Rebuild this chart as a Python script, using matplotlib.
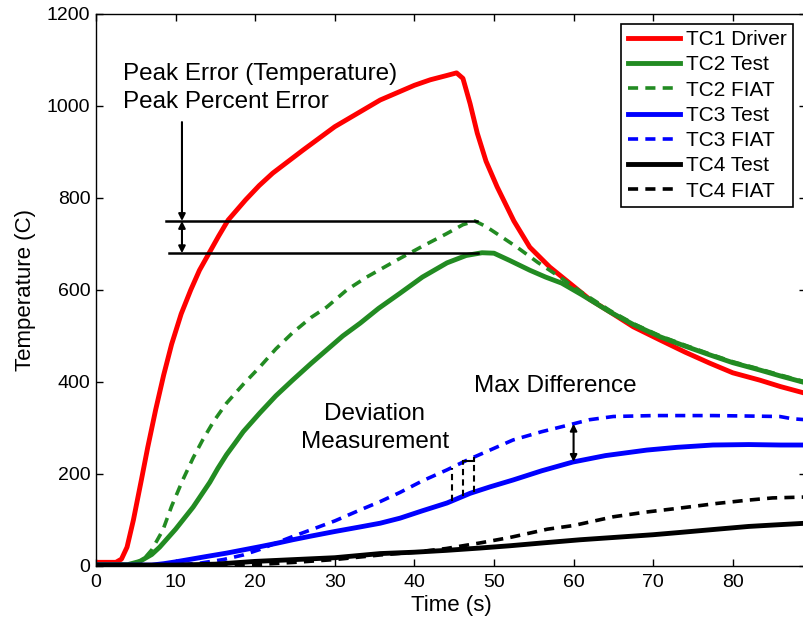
import numpy as np
import matplotlib
matplotlib.use("Agg")
import matplotlib.pyplot as plt

plt.rcParams["font.family"] = ["Liberation Sans", "DejaVu Sans"]

# --- data (time in s, temperature in C) ----------------------------------------------------
tc1_x = [0, 2.5, 3.2, 3.9, 4.7, 5.7, 6.5, 7.5, 8.5, 9.5, 10.7, 11.9, 13.0, 14.2, 15.4, 16.6,
         18.8, 20.5, 22.2, 26.0, 30.0, 35.7, 40.0, 42.0, 44.0, 45.3, 46.1, 47.0, 47.9, 49.0,
         50.4, 52.5, 54.5, 57.0, 59.5, 62.0, 64.6, 67.5, 70.9, 74.0, 77.1, 80.0, 83.4, 86.0, 89.2]
tc1_y = [8, 8, 15, 41, 100, 187, 258, 340, 415, 482, 548, 600, 643, 680, 717, 752,
         796, 827, 854, 904, 955, 1013, 1045, 1057, 1066, 1072, 1060, 1005, 941, 880,
         824, 750, 693, 650, 615, 580, 552, 520, 491, 465, 441, 420, 404, 390, 375]

tc2_test_x = [0, 4.0, 5.5, 7.0, 8.0, 10.0, 12.2, 14.3, 15.3, 16.4, 17.5, 18.5, 20.6, 22.6,
              24.7, 27.0, 29.0, 31.0, 33.2, 35.5, 38.2, 41.0, 44.1, 46.5, 48.5, 50.0, 52.0,
              54.5, 56.5, 58.5, 61.0, 64.6, 67.5, 70.9, 74.0, 77.1, 80.0, 83.4, 86.0, 89.2]
tc2_test_y = [3, 3, 10, 25, 41, 80, 128, 182, 212, 242, 268, 292, 333, 370,
              404, 440, 470, 500, 528, 560, 593, 628, 659, 675, 681, 680, 664,
              643, 628, 615, 590, 552, 525, 498, 478, 459, 442, 426, 413, 398]

tc2_fiat_x = [0, 4.5, 6.0, 7.0, 8.4, 9.5, 10.9, 12.2, 13.4, 14.8, 16.4, 18.5, 20.6, 22.6,
              24.7, 27.0, 29.0, 31.5, 34.0, 37.8, 41.0, 44.0, 46.1, 47.6, 49.0, 51.0, 52.9,
              55.5, 58.3, 61.0, 64.6, 67.5, 70.9, 74.0, 77.1, 80.0, 83.4, 86.0, 89.2]
tc2_fiat_y = [3, 3, 15, 35, 78, 130, 187, 235, 274, 315, 354, 395, 433, 472,
              507, 540, 563, 600, 628, 665, 695, 722, 742, 750, 738, 715, 693,
              660, 628, 595, 555, 527, 500, 480, 461, 444, 428, 415, 400]

tc3_test_x = [0, 7.0, 8.5, 10.0, 12.0, 14.0, 16.4, 18.5, 20.6, 22.6, 24.7, 27.0, 30.0, 33.2,
              35.7, 38.2, 41.0, 44.1, 47.0, 49.5, 52.4, 56.0, 59.9, 64.0, 69.2, 73.0, 77.5,
              82.0, 86.0, 89.2]
tc3_test_y = [2, 2, 5, 9, 15, 21, 28, 35, 42, 49, 57, 65, 75, 85,
              93, 104, 120, 137, 158, 172, 187, 207, 226, 240, 252, 258, 263,
              264, 263, 263]

tc3_fiat_x = [0, 10, 13, 16, 18.5, 20.6, 22.6, 24.7, 26.9, 30.0, 33.2, 35.7, 38.2, 41.0,
              44.1, 46.6, 49.5, 52.4, 56.0, 59.5, 62.0, 65.0, 70.0, 77.5, 82.0, 85.9, 87.5, 89.2]
tc3_fiat_y = [2, 2, 6, 14, 24, 36, 50, 64, 78, 98, 122, 140, 160, 185,
              209, 230, 252, 274, 292, 307, 318, 325, 327, 327, 326, 325, 320, 318]

tc4_test_x = [0, 10, 15, 20, 25, 30, 35.7, 40, 44, 48.2, 52, 56, 60.8, 65, 70, 73.4, 78,
              82, 85, 89.2]
tc4_test_y = [2, 2, 4, 10, 14, 18, 27, 30, 34, 39, 44, 50, 57, 62, 68, 73, 80,
              86, 89, 93]

tc4_fiat_x = [0, 15, 20, 25, 30, 35.7, 40, 44, 48.2, 52, 56.7, 60, 65, 69, 73.4, 78, 81.8,
              85, 89.2]
tc4_fiat_y = [0, 0, 3, 8, 14, 24, 30, 38, 50, 62, 80, 88, 107, 117, 126, 136, 143,
              148, 150]

# annotation anchors (data coords)
peak_fiat = 750
peak_test = 680
dev_x = [44.7, 46.1, 47.5]
maxdiff_x = 60.0

RED = "#ff0000"
GREEN = "#228b22"
BLUE = "#0000ff"
DASH = (0, (2.8, 2.0))

fig = plt.figure(figsize=(8.04, 6.25), dpi=100)
ax = fig.add_axes([96 / 804, 1 - 566 / 625, 710 / 804, 552 / 625])

lw_s, lw_d = 3.5, 2.6
ax.plot(tc1_x, tc1_y, color=RED, lw=lw_s, label="TC1 Driver")
ax.plot(tc2_test_x, tc2_test_y, color=GREEN, lw=lw_s, label="TC2 Test")
ax.plot(tc2_fiat_x, tc2_fiat_y, color=GREEN, lw=lw_d, ls=DASH, label="TC2 FIAT")
ax.plot(tc3_test_x, tc3_test_y, color=BLUE, lw=lw_s, label="TC3 Test")
ax.plot(tc3_fiat_x, tc3_fiat_y, color=BLUE, lw=lw_d, ls=DASH, label="TC3 FIAT")
ax.plot(tc4_test_x, tc4_test_y, color="k", lw=lw_s, label="TC4 Test")
ax.plot(tc4_fiat_x, tc4_fiat_y, color="k", lw=lw_d, ls=DASH, label="TC4 FIAT")

ax.set_xlim(0, 89.2)
ax.set_ylim(0, 1200)
ax.set_xticks(np.arange(0, 90, 10))
ax.set_yticks(np.arange(0, 1201, 200))
ax.tick_params(direction="in", length=5, width=1, top=True, right=True, labelsize=14)
ax.tick_params(axis="x", pad=6)
ax.tick_params(axis="y", pad=4)
for s in ax.spines.values():
    s.set_linewidth(1.0)
ax.set_xlabel("Time (s)", fontsize=16, labelpad=3)
ax.set_ylabel("Temperature (C)", fontsize=16, labelpad=8)

# --- peak error annotation ---
ax.plot([8.8, 47.9], [peak_fiat, peak_fiat], color="k", lw=1.8)
ax.plot([9.2, 48.0], [peak_test, peak_test], color="k", lw=1.8)
ax.annotate("", xy=(10.8, peak_fiat), xytext=(10.8, 965),
            arrowprops=dict(arrowstyle="-|>", color="k", lw=1.5, mutation_scale=10,
                            shrinkA=0, shrinkB=0))
ax.annotate("", xy=(10.8, peak_test), xytext=(10.8, peak_fiat),
            arrowprops=dict(arrowstyle="<|-|>", color="k", lw=1.5, mutation_scale=10,
                            shrinkA=0, shrinkB=0))
ax.text(3.4, 1057, "Peak Error (Temperature)", fontsize=17.5, va="baseline")
ax.text(3.4, 996, "Peak Percent Error", fontsize=17.5, va="baseline")

# --- deviation measurement ---
lo = np.interp(dev_x, tc3_test_x, tc3_test_y)
hi = np.interp(dev_x, tc3_fiat_x, tc3_fiat_y)
for xv, y0, y1 in zip(dev_x, lo, hi):
    ax.plot([xv, xv], [y0, y1], color="k", lw=1.5, ls=(0, (3, 2)))
ax.plot([dev_x[1], dev_x[2]], [hi[1] + 2, hi[1] + 2], color="k", lw=1.5)
ax.text(35.0, 317, "Deviation", fontsize=17.5, ha="center", va="baseline")
ax.text(35.0, 257, "Measurement", fontsize=17.5, ha="center", va="baseline")

# --- max difference ---
md_lo = np.interp(maxdiff_x, tc3_test_x, tc3_test_y)
md_hi = np.interp(maxdiff_x, tc3_fiat_x, tc3_fiat_y)
ax.annotate("", xy=(maxdiff_x, md_lo), xytext=(maxdiff_x, md_hi),
            arrowprops=dict(arrowstyle="<|-|>", color="k", lw=1.5, mutation_scale=10,
                            shrinkA=0, shrinkB=0))
ax.text(57.7, 378, "Max Difference", fontsize=17.5, ha="center", va="baseline")

leg = ax.legend(loc="upper right", bbox_to_anchor=(0.9817, 0.982), borderaxespad=0,
                fontsize=15, handlelength=2.5, handletextpad=0.3, labelspacing=0.3,
                borderpad=0.3, fancybox=False, framealpha=1, edgecolor="k")
leg.get_frame().set_linewidth(1.2)

fig.savefig("out.png", dpi=100)
